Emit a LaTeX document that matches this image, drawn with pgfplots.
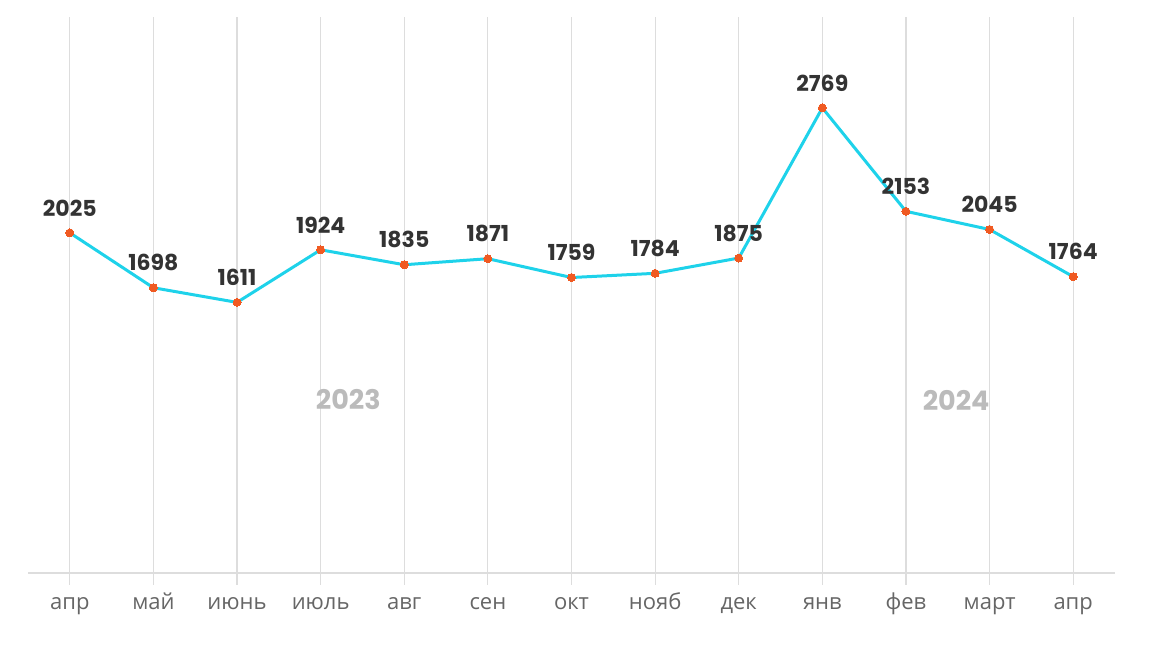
\documentclass[border=0pt]{standalone}
\usepackage{fontspec}
\setmainfont{Open Sans}
\newfontfamily\numfont{Poppins}
\usepackage{pgfplots}
\pgfplotsset{compat=1.18}

\definecolor{linecyan}{HTML}{1ED2EA}
\definecolor{dotred}{HTML}{F05A22}
\definecolor{gridgray}{HTML}{DDDDDD}
\definecolor{labeldark}{HTML}{333333}
\definecolor{tickgray}{HTML}{666666}
\definecolor{yeargray}{HTML}{BBBBBB}

\begin{document}
\begin{tikzpicture}[x=1pt,y=1pt]
\path[use as bounding box] (0,0) rectangle (576,334);
\begin{axis}[
    at={(14pt,47.5pt)}, anchor=south west,
    scale only axis,
    width=543.5pt, height=278pt,
    xmin=-0.5, xmax=12.5,
    ymin=0, ymax=3310,
    axis x line*=bottom,
    axis y line=none,
    x axis line style={draw=gridgray, line width=0.6pt, -},
    xtick={0,...,12},
    xticklabels={апр,май,июнь,июль,авг,сен,окт,нояб,дек,янв,фев,март,апр},
    xticklabel style={font=\fontsize{11}{13}\selectfont, text=tickgray,
        text height=1.6ex, text depth=0.5ex, yshift=0pt},
    tick align=outside,
    major tick length=6pt,
    tick style={draw=gridgray, line width=0.6pt},
    xmajorgrids=true,
    grid style={draw=gridgray, line width=0.6pt},
    clip=false,
    nodes near coords,
    nodes near coords style={font=\numfont\bfseries\fontsize{11}{13}\selectfont, text=labeldark, anchor=south, yshift=5pt},
    point meta=explicit symbolic,
]
\addplot[color=linecyan, line width=1.5pt, mark=*, mark size=2pt,
    mark options={draw=dotred, fill=dotred, line width=0pt}]
    coordinates {
    (0,2025) [2025]
    (1,1698) [1698]
    (2,1611) [1611]
    (3,1924) [1924]
    (4,1835) [1835]
    (5,1871) [1871]
    (6,1759) [1759]
    (7,1784) [1784]
    (8,1875) [1875]
    (9,2769) [2769]
    (10,2153) [2153]
    (11,2045) [2045]
    (12,1764) [1764]
    };
\node[font=\numfont\bfseries\fontsize{13.5}{15}\selectfont, text=yeargray] at (axis cs:3.33,1030) {2023};
\node[font=\numfont\bfseries\fontsize{13.5}{15}\selectfont, text=yeargray] at (axis cs:10.6,1030) {2024};
\end{axis}
\end{tikzpicture}
\end{document}
